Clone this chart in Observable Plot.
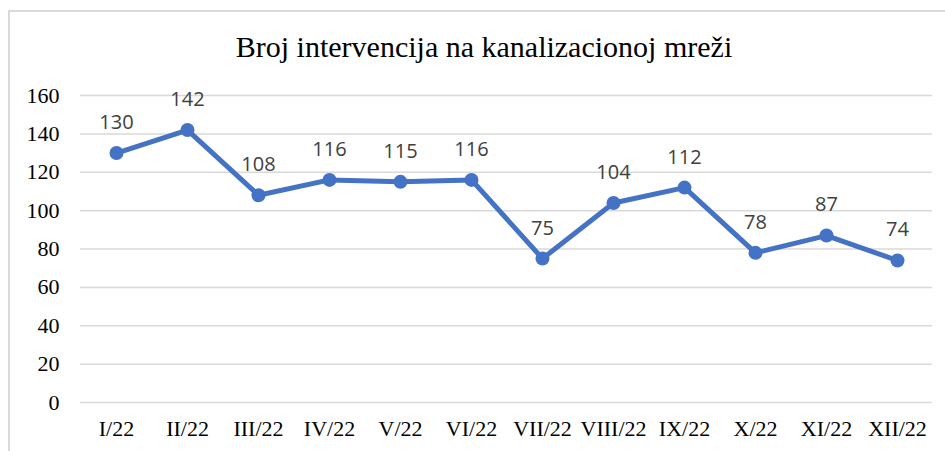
<!DOCTYPE html>
<html>
<head>
<meta charset="utf-8">
<script src="https://cdn.jsdelivr.net/npm/d3@7"></script>
<script src="https://cdn.jsdelivr.net/npm/@observablehq/plot@0.6"></script>
<style>
  html, body { margin: 0; padding: 0; background: #fff; }
  #wrap { position: relative; width: 945px; height: 451px; overflow: hidden; }
  #frame { position: absolute; left: 8px; top: 10px; width: 940px; height: 445px;
           border-left: 2px solid #d9d9d9; border-top: 2px solid #d9d9d9; pointer-events: none; }
  #title { height: 75px; box-sizing: border-box; padding-top: 32px; padding-left: 23px;
           text-align: center; font-family: "Liberation Serif", serif; font-size: 30px;
           line-height: 30px; color: #000; white-space: nowrap; }
  svg { display: block; }
</style>
</head>
<body>
<div id="wrap">
  <div id="frame"></div>
  <div id="title">Broj intervencija na kanalizacionoj mreži</div>
  <div id="chart"></div>
</div>
<script>
const months = ["I/22","II/22","III/22","IV/22","V/22","VI/22","VII/22","VIII/22","IX/22","X/22","XI/22","XII/22"];
const values = [130,142,108,116,115,116,75,104,112,78,87,74];
const yTicks = [0,20,40,60,80,100,120,140,160];

const data = months.map((m, i) => ({month: m, value: values[i]}));

const chart = Plot.plot({
  width: 945,
  height: 376,
  marginTop: 20,
  marginBottom: 49,
  marginLeft: 80,
  marginRight: 13,
  style: {background: "white", color: "#000"},
  x: {type: "point", domain: months, padding: 0.5, label: null},
  y: {domain: [0, 160], label: null},
  marks: [
    Plot.gridY(yTicks, {stroke: "#d9d9d9", strokeOpacity: 1, strokeWidth: 1.5}),
    Plot.axisY(yTicks, {tickSize: 0, tickPadding: 21, fontSize: 22, fontFamily: "Liberation Serif", fill: "#000", label: null}),
    Plot.axisX({tickSize: 0, tickPadding: 18, fontSize: 22, fontFamily: "Liberation Serif", fill: "#000", label: null}),
    Plot.line(data, {x: "month", y: "value", stroke: "#4472C4", strokeWidth: 5, strokeLinejoin: "round", strokeLinecap: "round"}),
    Plot.dot(data, {x: "month", y: "value", r: 7, fill: "#4472C4", stroke: "none"}),
    Plot.text(data, {x: "month", y: "value", text: d => String(d.value), dy: -30.5, fontSize: 20, fontFamily: "Open Sans", fill: "#404040", textAnchor: "middle", lineAnchor: "middle"})
  ]
});
document.getElementById("chart").appendChild(chart);
</script>
</body>
</html>
